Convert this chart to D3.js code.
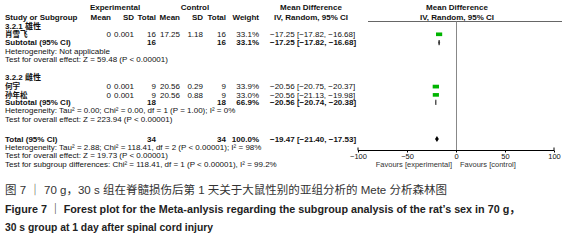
<!DOCTYPE html>
<html>
<head>
<meta charset="utf-8">
<script src="https://cdn.jsdelivr.net/npm/d3@7/dist/d3.min.js"></script>
<style>
  body { margin: 0; background: #fff; }
  text { font-family: "Liberation Sans", Arial, "Noto Sans CJK SC", sans-serif; }
</style>
</head>
<body>
<script>
// study level data
var studies = ["肖雪飞", "何宇", "孙年松"];
var expMean = [0, 0, 0];
var expSD = [0.001, 0.001, 0.001];
var expN = [16, 9, 9];
var ctlMean = [17.25, 20.56, 20.56];
var ctlSD = [1.18, 0.29, 0.88];
var ctlN = [16, 9, 9];
var weights = [33.1, 33.9, 33.0];
var md = [-17.25, -20.56, -20.56];
var lo = [-17.82, -20.75, -21.13];
var hi = [-16.68, -20.37, -19.98];

// subgroups
var subgroups = ["3.2.1 雄性", "3.2.2 雌性"];
var subN = [16, 18];
var subWeight = [33.1, 66.9];
var subMd = [-17.25, -20.56];
var subLo = [-17.82, -20.74];
var subHi = [-16.68, -20.38];
var subHet = ["Heterogeneity: Not applicable",
              "Heterogeneity: Tau\u00b2 = 0.00; Chi\u00b2 = 0.00, df = 1 (P = 1.00); I\u00b2 = 0%"];
var subTest = ["Test for overall effect: Z = 59.48 (P < 0.00001)",
               "Test for overall effect: Z = 223.94 (P < 0.00001)"];

// overall
var totalN = 34;
var totalMd = -19.47, totalLo = -21.40, totalHi = -17.53;
var totalNotes = ["Heterogeneity: Tau\u00b2 = 2.88; Chi\u00b2 = 118.41, df = 2 (P < 0.00001); I\u00b2 = 98%",
                  "Test for overall effect: Z = 19.73 (P < 0.00001)",
                  "Test for subgroup differences: Chi\u00b2 = 118.41, df = 1 (P < 0.00001), I\u00b2 = 99.2%"];

var axisTicks = [-100, -50, 0, 50, 100];
var captions = ["图 7 ｜ 70 g，30 s 组在脊髓损伤后第 1 天关于大鼠性别的亚组分析的 Mete 分析森林图",
                "Figure 7 ｜ Forest plot for the Meta-anlysis regarding the subgroup analysis of the rat\u2019s sex in 70 g，",
                "30 s group at 1 day after spinal cord injury"];

var W = 568, H = 243;
var fs = 8;
var green = "#00b400";

var svg = d3.select("body").append("svg")
    .attr("width", W).attr("height", H);
svg.append("rect").attr("width", W).attr("height", H).attr("fill", "#fff");

var x = d3.scaleLinear().domain([-100, 100]).range([358, 554]);
var rowY = d3.scaleLinear().domain([0, 1]).range([26, 34.3]);

// column right edges
var col = {m1: 111, sd1: 134, n1: 156, m2: 180, sd2: 203, n2: 226, w: 259, ci: 270};

function txt(g, s, xx, yy, anchor, bold, color, size) {
    return g.append("text")
        .attr("x", xx).attr("y", yy).attr("dy", "0.35em")
        .attr("text-anchor", anchor || "start")
        .attr("font-size", (size || fs) + "px")
        .attr("font-weight", bold ? "bold" : "normal")
        .attr("fill", color || "#111")
        .text(s);
}
function fmtCI(m, l, h) {
    return d3.format(".2f")(m) + " [" + d3.format(".2f")(l) + ", " + d3.format(".2f")(h) + "]";
}

// headers
var hd = svg.append("g");
txt(hd, "Experimental", 115, 7, "middle", true);
txt(hd, "Control", 195, 7, "middle", true);
txt(hd, "Mean Difference", 311, 7, "middle", true);
txt(hd, "Mean Difference", 457, 7, "middle", true);
txt(hd, "Study or Subgroup", 5, 17, "start", true);
txt(hd, "Mean", col.m1, 17, "end", true);
txt(hd, "SD", col.sd1, 17, "end", true);
txt(hd, "Total", col.n1, 17, "end", true);
txt(hd, "Mean", col.m2, 17, "end", true);
txt(hd, "SD", col.sd2, 17, "end", true);
txt(hd, "Total", col.n2, 17, "end", true);
txt(hd, "Weight", col.w, 17, "end", true);
txt(hd, "IV, Random, 95% CI", 311, 17, "middle", true);
txt(hd, "IV, Random, 95% CI", 457, 17, "middle", true);
svg.append("line").attr("x1", 368).attr("x2", 562).attr("y1", 21.5).attr("y2", 21.5)
    .attr("stroke", "#666").attr("stroke-width", 1);

// zero line
svg.append("line").attr("x1", x(0) + 0.5).attr("x2", x(0) + 0.5)
    .attr("y1", 21.5).attr("y2", 150)
    .attr("stroke", "#888").attr("stroke-width", 1);

// layout rows (in row units)
var headRow = [0, 6.2];
var studyRow = [1, 7.3, 8.3];
var subRow = [2, 9.2];
var hetRow = [3.05, 10.2];
var testRow = [4.05, 11.2];
var totalRow = 13.6;
var noteRows = [14.6, 15.6, 16.6];

var body = svg.append("g");

subgroups.forEach(function(s, k) {
    txt(body, s, 5, rowY(headRow[k]), "start", true);
    var yy = rowY(subRow[k]);
    txt(body, "Subtotal (95% CI)", 5, yy, "start", true);
    txt(body, subN[k], col.n1, yy, "end", true);
    txt(body, subN[k], col.n2, yy, "end", true);
    txt(body, subWeight[k].toFixed(1) + "%", col.w, yy, "end", true);
    txt(body, fmtCI(subMd[k], subLo[k], subHi[k]), col.ci, yy, "start", true);
    txt(body, subHet[k], 5, rowY(hetRow[k]), "start", false);
    txt(body, subTest[k], 5, rowY(testRow[k]), "start", false);
    // subtotal diamond
    var h = 2.6;
    body.append("path")
        .attr("d", "M" + x(subLo[k]) + "," + yy + "L" + x(subMd[k]) + "," + (yy - h) +
            "L" + x(subHi[k]) + "," + yy + "L" + x(subMd[k]) + "," + (yy + h) + "Z")
        .attr("fill", "#000").attr("stroke", "#000").attr("stroke-width", 0.5);
});

studies.forEach(function(s, i) {
    var yy = rowY(studyRow[i]);
    txt(body, s, 5, yy, "start", true, "#111", 7.5);
    txt(body, expMean[i], col.m1, yy, "end");
    txt(body, expSD[i].toFixed(3), col.sd1, yy, "end");
    txt(body, expN[i], col.n1, yy, "end");
    txt(body, ctlMean[i].toFixed(2), col.m2, yy, "end");
    txt(body, ctlSD[i].toFixed(2), col.sd2, yy, "end");
    txt(body, ctlN[i], col.n2, yy, "end");
    txt(body, weights[i].toFixed(1) + "%", col.w, yy, "end");
    txt(body, fmtCI(md[i], lo[i], hi[i]), col.ci, yy, "start");
    // CI line and square
    body.append("line").attr("x1", x(lo[i])).attr("x2", x(hi[i]))
        .attr("y1", yy).attr("y2", yy).attr("stroke", "#000").attr("stroke-width", 0.8);
    var sz = weights[i] * 0.11;
    body.append("rect")
        .attr("x", x(md[i]) - sz * 0.85).attr("y", yy - sz / 2)
        .attr("width", sz * 1.7).attr("height", sz)
        .attr("fill", green);
});

// total row
var ty = rowY(totalRow);
txt(body, "Total (95% CI)", 5, ty, "start", true);
txt(body, totalN, col.n1, ty, "end", true);
txt(body, totalN, col.n2, ty, "end", true);
txt(body, "100.0%", col.w, ty, "end", true);
txt(body, fmtCI(totalMd, totalLo, totalHi), col.ci, ty, "start", true);
body.append("path")
    .attr("d", "M" + x(totalLo) + "," + ty + "L" + x(totalMd) + "," + (ty - 3) +
        "L" + x(totalHi) + "," + ty + "L" + x(totalMd) + "," + (ty + 3) + "Z")
    .attr("fill", "#000");
totalNotes.forEach(function(n, j) {
    txt(body, n, 5, rowY(noteRows[j]), "start", false);
});

// axis
var axis = svg.append("g").attr("transform", "translate(0,150.5)");
axis.call(d3.axisBottom(x).tickValues(axisTicks).tickSize(2).tickPadding(1).tickFormat(d3.format("d")))
    .call(function(g) {
        g.select(".domain").attr("stroke", "#000").attr("d", "M" + x(-100) + ",-3V0H" + x(100) + "V-3");
        g.selectAll(".tick line").attr("stroke", "#000");
        g.selectAll(".tick text").attr("font-size", "7.5px").attr("dy", "0.71em")
            .attr("font-family", "Liberation Sans, Arial, sans-serif").attr("fill", "#111");
    });
txt(svg, "Favours [experimental]", x(0) - 4, 164.5, "end", false, "#333", 7.5);
txt(svg, "Favours [control]", x(0) + 4, 164.5, "start", false, "#333", 7.5);

// caption
var cap = svg.append("g");
cap.append("text").attr("x", 5).attr("y", 194)
    .attr("font-family", "Noto Sans CJK SC, sans-serif").attr("font-size", "11.5px")
    .attr("fill", "#333").attr("textLength", 442).attr("lengthAdjust", "spacingAndGlyphs")
    .text(captions[0]);
cap.append("text").attr("x", 5).attr("y", 213)
    .attr("font-family", "Noto Sans, sans-serif").attr("font-size", "11px").attr("font-weight", "bold")
    .attr("fill", "#222").attr("textLength", 515).attr("lengthAdjust", "spacingAndGlyphs")
    .text(captions[1]);
cap.append("text").attr("x", 5).attr("y", 231)
    .attr("font-family", "Noto Sans, sans-serif").attr("font-size", "11px").attr("font-weight", "bold")
    .attr("fill", "#222").attr("textLength", 208).attr("lengthAdjust", "spacingAndGlyphs")
    .text(captions[2]);
</script>
</body>
</html>
